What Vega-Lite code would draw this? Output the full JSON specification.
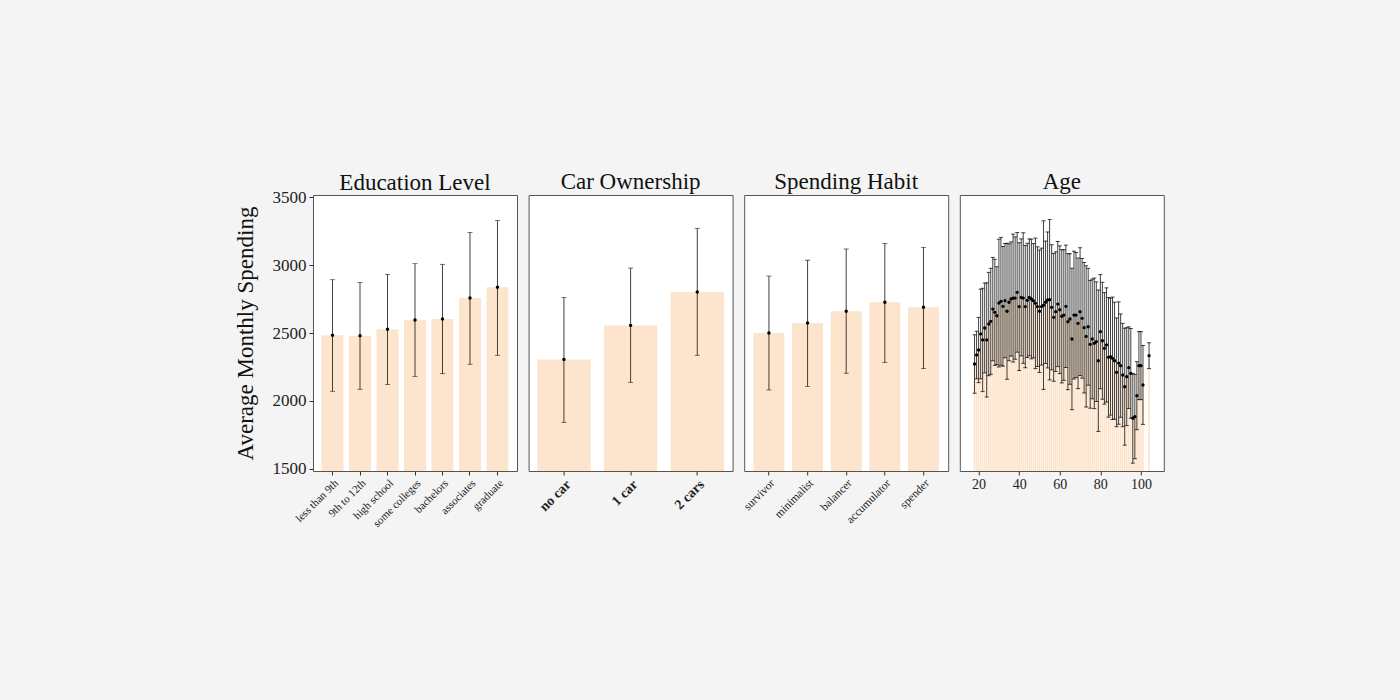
{
  "$schema": "https://vega.github.io/schema/vega-lite/v6.json",
  "background": "#f3f4f3",
  "padding": {"left": 233, "top": 170, "right": 238, "bottom": 172},
  "bounds": "flush",
  "config": {
    "font": "Liberation Serif",
    "view": {"stroke": "#555", "strokeWidth": 1, "fill": "white"},
    "axis": {"tickColor": "#333", "tickSize": 4, "domain": false, "grid": false, "labelColor": "#222", "labelFont": "Liberation Serif", "titleFont": "Liberation Serif", "titleFontWeight": "normal", "titleColor": "#111"},
    "title": {"font": "Liberation Serif", "fontSize": 23, "fontWeight": "normal", "color": "#111", "offset": 1, "frame": "group"},
    "concat": {"spacing": 11.6}
  },
  "datasets": {
    "education": [
      {"level": "less than 9th", "mean": 2483, "lo": 2071, "hi": 2892},
      {"level": "9th to 12th", "mean": 2479, "lo": 2086, "hi": 2872},
      {"level": "high school", "mean": 2527, "lo": 2122, "hi": 2931},
      {"level": "some colleges", "mean": 2596, "lo": 2181, "hi": 3010},
      {"level": "bachelors", "mean": 2603, "lo": 2201, "hi": 3005},
      {"level": "associates", "mean": 2757, "lo": 2270, "hi": 3240},
      {"level": "graduate", "mean": 2836, "lo": 2336, "hi": 3328}
    ],
    "car": [
      {"cars": "no car", "mean": 2306, "lo": 1843, "hi": 2762},
      {"cars": "1 car", "mean": 2556, "lo": 2137, "hi": 2978},
      {"cars": "2 cars", "mean": 2801, "lo": 2336, "hi": 3270}
    ],
    "habit": [
      {"habit": "survivor", "mean": 2500, "lo": 2081, "hi": 2919},
      {"habit": "minimalist", "mean": 2574, "lo": 2108, "hi": 3035},
      {"habit": "balancer", "mean": 2660, "lo": 2204, "hi": 3118},
      {"habit": "accumulator", "mean": 2726, "lo": 2284, "hi": 3159},
      {"habit": "spender", "mean": 2689, "lo": 2238, "hi": 3130}
    ],
    "age": [
      {"age": 18, "mean": 2272, "lo": 2057, "hi": 2487},
      {"age": 19, "mean": 2338, "lo": 2163, "hi": 2513},
      {"age": 20, "mean": 2375, "lo": 2135, "hi": 2615},
      {"age": 21, "mean": 2493, "lo": 2163, "hi": 2823},
      {"age": 22, "mean": 2449, "lo": 2069, "hi": 2829},
      {"age": 23, "mean": 2537, "lo": 2207, "hi": 2867},
      {"age": 24, "mean": 2449, "lo": 2029, "hi": 2869},
      {"age": 25, "mean": 2566, "lo": 2186, "hi": 2946},
      {"age": 26, "mean": 2586, "lo": 2196, "hi": 2976},
      {"age": 27, "mean": 2676, "lo": 2296, "hi": 3056},
      {"age": 28, "mean": 2652, "lo": 2262, "hi": 3042},
      {"age": 29, "mean": 2627, "lo": 2267, "hi": 2987},
      {"age": 30, "mean": 2720, "lo": 2250, "hi": 3190},
      {"age": 31, "mean": 2733, "lo": 2263, "hi": 3203},
      {"age": 32, "mean": 2696, "lo": 2256, "hi": 3136},
      {"age": 33, "mean": 2738, "lo": 2318, "hi": 3158},
      {"age": 34, "mean": 2660, "lo": 2160, "hi": 3160},
      {"age": 35, "mean": 2726, "lo": 2296, "hi": 3156},
      {"age": 36, "mean": 2750, "lo": 2330, "hi": 3170},
      {"age": 37, "mean": 2757, "lo": 2287, "hi": 3227},
      {"age": 38, "mean": 2757, "lo": 2307, "hi": 3207},
      {"age": 39, "mean": 2799, "lo": 2359, "hi": 3239},
      {"age": 40, "mean": 2694, "lo": 2224, "hi": 3164},
      {"age": 41, "mean": 2762, "lo": 2332, "hi": 3192},
      {"age": 42, "mean": 2757, "lo": 2277, "hi": 3237},
      {"age": 43, "mean": 2694, "lo": 2244, "hi": 3144},
      {"age": 44, "mean": 2740, "lo": 2320, "hi": 3160},
      {"age": 45, "mean": 2762, "lo": 2332, "hi": 3192},
      {"age": 46, "mean": 2750, "lo": 2310, "hi": 3190},
      {"age": 47, "mean": 2738, "lo": 2318, "hi": 3158},
      {"age": 48, "mean": 2718, "lo": 2238, "hi": 3198},
      {"age": 49, "mean": 2694, "lo": 2254, "hi": 3134},
      {"age": 50, "mean": 2660, "lo": 2210, "hi": 3110},
      {"age": 51, "mean": 2694, "lo": 2264, "hi": 3124},
      {"age": 52, "mean": 2705, "lo": 2085, "hi": 3325},
      {"age": 53, "mean": 2726, "lo": 2276, "hi": 3176},
      {"age": 54, "mean": 2743, "lo": 2243, "hi": 3243},
      {"age": 55, "mean": 2745, "lo": 2155, "hi": 3335},
      {"age": 56, "mean": 2689, "lo": 2229, "hi": 3149},
      {"age": 57, "mean": 2615, "lo": 2145, "hi": 3085},
      {"age": 58, "mean": 2657, "lo": 2217, "hi": 3097},
      {"age": 59, "mean": 2713, "lo": 2253, "hi": 3173},
      {"age": 60, "mean": 2671, "lo": 2201, "hi": 3141},
      {"age": 61, "mean": 2623, "lo": 2133, "hi": 3113},
      {"age": 62, "mean": 2632, "lo": 2152, "hi": 3112},
      {"age": 63, "mean": 2696, "lo": 2246, "hi": 3146},
      {"age": 64, "mean": 2583, "lo": 2083, "hi": 3083},
      {"age": 65, "mean": 2603, "lo": 2123, "hi": 3083},
      {"age": 66, "mean": 2456, "lo": 1936, "hi": 2976},
      {"age": 67, "mean": 2632, "lo": 2162, "hi": 3102},
      {"age": 68, "mean": 2632, "lo": 2172, "hi": 3092},
      {"age": 69, "mean": 2571, "lo": 2091, "hi": 3051},
      {"age": 70, "mean": 2657, "lo": 2187, "hi": 3127},
      {"age": 71, "mean": 2608, "lo": 2168, "hi": 3048},
      {"age": 72, "mean": 2539, "lo": 2059, "hi": 3019},
      {"age": 73, "mean": 2475, "lo": 1955, "hi": 2995},
      {"age": 74, "mean": 2546, "lo": 2116, "hi": 2976},
      {"age": 75, "mean": 2417, "lo": 1947, "hi": 2887},
      {"age": 76, "mean": 2456, "lo": 2016, "hi": 2896},
      {"age": 77, "mean": 2424, "lo": 1944, "hi": 2904},
      {"age": 78, "mean": 2436, "lo": 1996, "hi": 2876},
      {"age": 79, "mean": 2296, "lo": 1776, "hi": 2816},
      {"age": 80, "mean": 2510, "lo": 2090, "hi": 2930},
      {"age": 81, "mean": 2443, "lo": 2013, "hi": 2873},
      {"age": 82, "mean": 2387, "lo": 1977, "hi": 2797},
      {"age": 83, "mean": 2412, "lo": 1992, "hi": 2832},
      {"age": 84, "mean": 2321, "lo": 1881, "hi": 2761},
      {"age": 85, "mean": 2326, "lo": 1896, "hi": 2756},
      {"age": 86, "mean": 2314, "lo": 1864, "hi": 2764},
      {"age": 87, "mean": 2296, "lo": 1866, "hi": 2726},
      {"age": 88, "mean": 2211, "lo": 1811, "hi": 2611},
      {"age": 89, "mean": 2279, "lo": 1829, "hi": 2729},
      {"age": 90, "mean": 2260, "lo": 1880, "hi": 2640},
      {"age": 91, "mean": 2191, "lo": 1811, "hi": 2571},
      {"age": 92, "mean": 2105, "lo": 1675, "hi": 2535},
      {"age": 93, "mean": 2179, "lo": 1819, "hi": 2539},
      {"age": 94, "mean": 2245, "lo": 1945, "hi": 2545},
      {"age": 95, "mean": 2203, "lo": 1873, "hi": 2533},
      {"age": 96, "mean": 1873, "lo": 1543, "hi": 2203},
      {"age": 97, "mean": 1885, "lo": 1575, "hi": 2195},
      {"age": 98, "mean": 2039, "lo": 1789, "hi": 2289},
      {"age": 99, "mean": 2260, "lo": 2010, "hi": 2510},
      {"age": 100, "mean": 2260, "lo": 2010, "hi": 2510},
      {"age": 101, "mean": 2118, "lo": 1828, "hi": 2408},
      {"age": 104, "mean": 2333, "lo": 2238, "hi": 2428}
    ]
  },
  "hconcat": [
    {
      "width": 204,
      "height": 276,
      "title": {"text": "Education Level", "offset": -7},
      "data": {"name": "education"},
      "encoding": {
        "x": {"field": "level", "type": "nominal", "sort": null, "title": null,
              "scale": {"paddingInner": 0.2, "paddingOuter": 0.31},
              "axis": {"labelAngle": -45, "labelFontSize": 11, "labelPadding": 2}}
      },
      "layer": [
        {
          "mark": {"type": "bar", "color": "#fde5cd", "clip": true},
          "encoding": {
            "y": {"field": "mean", "type": "quantitative", "title": "Average Monthly Spending",
                  "scale": {"domain": [1485, 3515], "nice": false, "zero": false},
                  "axis": {"values": [1500, 2000, 2500, 3000, 3500], "format": "d", "labelFontSize": 17, "titleFontSize": 23, "titlePadding": 15, "labelPadding": 3}}
          }
        },
        {
          "mark": {"type": "errorbar", "ticks": true, "size": 5, "thickness": 0.8, "color": "#111"},
          "encoding": {
            "y": {"field": "lo", "type": "quantitative", "title": "Average Monthly Spending"},
            "y2": {"field": "hi"}
          }
        },
        {
          "mark": {"type": "circle", "color": "black", "size": 12, "opacity": 1},
          "encoding": {"y": {"field": "mean", "type": "quantitative", "title": "Average Monthly Spending"}}
        }
      ]
    },
    {
      "width": 204,
      "height": 276,
      "title": "Car Ownership",
      "data": {"name": "car"},
      "encoding": {
        "x": {"field": "cars", "type": "nominal", "sort": null, "title": null,
              "scale": {"paddingInner": 0.2, "paddingOuter": 0.13},
              "axis": {"labelAngle": -45, "labelFontSize": 14, "labelFontWeight": "bold", "labelPadding": 2}}
      },
      "layer": [
        {
          "mark": {"type": "bar", "color": "#fde5cd", "clip": true},
          "encoding": {
            "y": {"field": "mean", "type": "quantitative",
                  "scale": {"domain": [1485, 3515], "nice": false, "zero": false}, "axis": null}
          }
        },
        {
          "mark": {"type": "errorbar", "ticks": true, "size": 5, "thickness": 0.8, "color": "#111"},
          "encoding": {"y": {"field": "lo", "type": "quantitative"}, "y2": {"field": "hi"}}
        },
        {
          "mark": {"type": "circle", "color": "black", "size": 12, "opacity": 1},
          "encoding": {"y": {"field": "mean", "type": "quantitative"}}
        }
      ]
    },
    {
      "width": 204,
      "height": 276,
      "title": "Spending Habit",
      "data": {"name": "habit"},
      "encoding": {
        "x": {"field": "habit", "type": "nominal", "sort": null, "title": null,
              "scale": {"paddingInner": 0.2, "paddingOuter": 0.24},
              "axis": {"labelAngle": -45, "labelFontSize": 11.5, "labelPadding": 2}}
      },
      "layer": [
        {
          "mark": {"type": "bar", "color": "#fde5cd", "clip": true},
          "encoding": {
            "y": {"field": "mean", "type": "quantitative",
                  "scale": {"domain": [1485, 3515], "nice": false, "zero": false}, "axis": null}
          }
        },
        {
          "mark": {"type": "errorbar", "ticks": true, "size": 5, "thickness": 0.8, "color": "#111"},
          "encoding": {"y": {"field": "lo", "type": "quantitative"}, "y2": {"field": "hi"}}
        },
        {
          "mark": {"type": "circle", "color": "black", "size": 12, "opacity": 1},
          "encoding": {"y": {"field": "mean", "type": "quantitative"}}
        }
      ]
    },
    {
      "width": 204,
      "height": 276,
      "title": "Age",
      "data": {"name": "age"},
      "encoding": {
        "x": {"field": "age", "type": "quantitative", "title": null,
              "scale": {"domain": [13.2, 108.8], "nice": false, "zero": false},
              "axis": {"values": [20, 40, 60, 80, 100], "labelFontSize": 14, "labelAngle": 0, "labelPadding": 2}}
      },
      "layer": [
        {
          "mark": {"type": "bar", "color": "#fde5cd", "width": 1.7, "clip": true},
          "encoding": {
            "y": {"field": "mean", "type": "quantitative",
                  "scale": {"domain": [1485, 3515], "nice": false, "zero": false}, "axis": null}
          }
        },
        {
          "mark": {"type": "errorbar", "ticks": true, "size": 4, "thickness": 1, "color": "#111", "opacity": 0.8},
          "encoding": {"y": {"field": "lo", "type": "quantitative"}, "y2": {"field": "hi"}}
        },
        {
          "mark": {"type": "circle", "color": "black", "size": 11, "opacity": 1},
          "encoding": {"y": {"field": "mean", "type": "quantitative"}}
        }
      ]
    }
  ]
}
